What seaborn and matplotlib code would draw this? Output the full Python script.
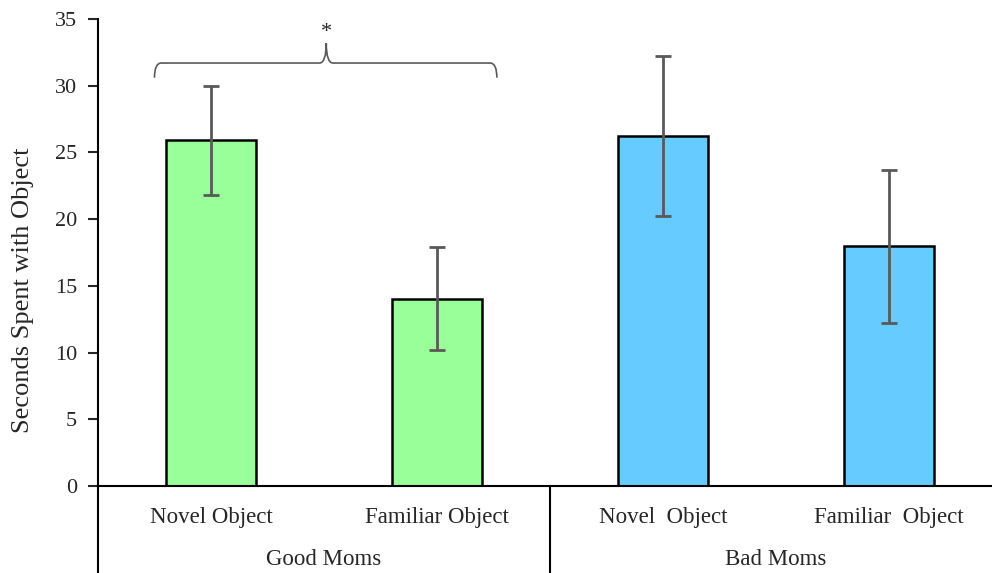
import matplotlib
matplotlib.use("Agg")
import matplotlib.pyplot as plt
import matplotlib.transforms as mtransforms
from matplotlib.path import Path
from matplotlib.patches import PathPatch
import seaborn as sns
import pandas as pd

# ---- data ----
groups = ["Good Moms", "Good Moms", "Bad Moms", "Bad Moms"]
tick_labels = ["Novel Object", "Familiar Object", "Novel  Object", "Familiar  Object"]
conditions = ["Good-Novel", "Good-Familiar", "Bad-Novel", "Bad-Familiar"]
means = [25.9, 14.05, 26.2, 17.95]
errors = [4.1, 3.85, 6.0, 5.75]
bar_colors = ["#99FF99", "#99FF99", "#66CCFF", "#66CCFF"]
group_names = ["Good Moms", "Bad Moms"]
y_ticks = [0, 5, 10, 15, 20, 25, 30, 35]

df = pd.DataFrame({"condition": conditions, "seconds": means, "group": groups})

sns.set_theme(style="white")
plt.rcParams["font.family"] = ["Liberation Serif", "DejaVu Serif"]

fig = plt.figure(figsize=(9.92, 5.73), dpi=100)
ax = fig.add_axes([98 / 992, (573 - 486) / 573, 1 - 98 / 992, (486 - 19) / 573])

sns.barplot(data=df, x="condition", y="seconds", hue="condition",
            palette=bar_colors, order=conditions, hue_order=conditions,
            saturation=1, width=0.395, edgecolor="black", linewidth=1.8,
            legend=False, ax=ax)

xpos = list(range(len(conditions)))
ax.errorbar(xpos, means, yerr=errors, fmt="none", ecolor="#595959",
            elinewidth=2, capsize=6, capthick=2, zorder=5)

ax.set_xlim(-0.5, 3.456)
ax.set_ylim(0, 35)
ax.set_yticks(y_ticks)
ax.set_yticklabels([str(t) for t in y_ticks], fontsize=16)
ax.set_xticks(xpos)
ax.set_xticklabels(tick_labels, fontsize=16.5)
ax.tick_params(axis="x", length=0, pad=15)
ax.tick_params(axis="y", length=7, width=1.5, direction="out", pad=8, left=True)
ax.set_xlabel("")
ax.set_ylabel("Seconds Spent with Object", fontsize=19)
ax.yaxis.set_label_coords(-0.0716, 0.42)

for s in ["top", "right"]:
    ax.spines[s].set_visible(False)
for s in ["left", "bottom"]:
    ax.spines[s].set_color("black")
    ax.spines[s].set_linewidth(1.5)

# group separators and labels
trans = mtransforms.blended_transform_factory(ax.transData, ax.transAxes)
for xs in [-0.5, 1.5]:
    ax.plot([xs, xs], [0, -0.2], color="black", lw=1.5, transform=trans, clip_on=False)
for i, g in enumerate(group_names):
    ax.text(2 * i + 0.5, -0.158, g, transform=trans, ha="center", va="center", fontsize=16.5)

# significance bracket
xl, xr, xm = -0.25, 1.265, 0.51
yb, ye, yt = 31.7, 30.6, 33.2
r = 0.03
verts = [
    (xl, ye), (xl, yb), (xl + r, yb),
    (xm - r, yb), (xm, yb), (xm, yt),
    (xm, yt), (xm, yb), (xm + r, yb),
    (xr - r, yb), (xr, yb), (xr, ye),
]
codes = [Path.MOVETO, Path.CURVE3, Path.CURVE3,
         Path.LINETO, Path.CURVE3, Path.CURVE3,
         Path.MOVETO, Path.CURVE3, Path.CURVE3,
         Path.LINETO, Path.CURVE3, Path.CURVE3]
ax.add_patch(PathPatch(Path(verts, codes), fill=False, edgecolor="#595959", lw=1.2, clip_on=False))
ax.text(xm, 34.0, "*", ha="center", va="center", fontsize=16)

fig.savefig("out.png", dpi=100)
